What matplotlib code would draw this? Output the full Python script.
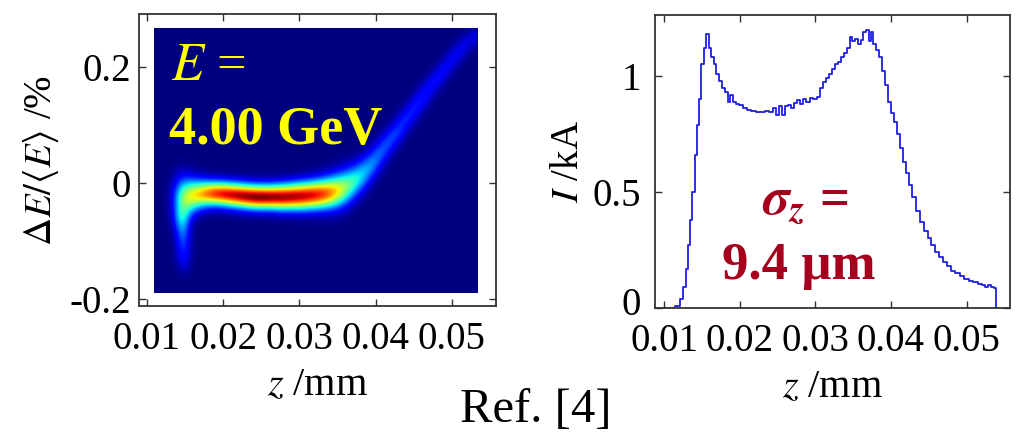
"""Longitudinal phase space and current profile at 4.00 GeV."""
import numpy as np
import matplotlib
matplotlib.use("Agg")
import matplotlib.pyplot as plt
from matplotlib.transforms import ScaledTranslation

plt.rcParams["font.family"] = ["Liberation Serif", "DejaVu Serif"]
plt.rcParams["mathtext.fontset"] = "stix"
plt.rcParams["axes.unicode_minus"] = False

# ---- current profile ----
cur_z = [0.0098, 0.0110, 0.0118, 0.0123, 0.0127, 0.0130, 0.0133, 0.0136, 0.0139, 0.0142,
         0.0145, 0.0148, 0.0151, 0.0154, 0.0158, 0.0161, 0.0164, 0.0167, 0.0171, 0.0175,
         0.0179, 0.0183, 0.0186, 0.0189, 0.0193, 0.0197, 0.0202, 0.0207, 0.0212, 0.0218,
         0.0224, 0.0230, 0.0236, 0.0241, 0.0246, 0.0250, 0.0254, 0.0258, 0.0262, 0.0266,
         0.0270, 0.0274, 0.0278, 0.0282, 0.0286, 0.0290, 0.0295, 0.0300, 0.0304, 0.0308,
         0.0312, 0.0316, 0.0320, 0.0324, 0.0328, 0.0332, 0.0336, 0.0340, 0.0344, 0.0347,
         0.0351, 0.0355, 0.0358, 0.0362, 0.0365, 0.0369, 0.0372, 0.0375, 0.0378, 0.0382,
         0.0386, 0.0390, 0.0394, 0.0398, 0.0402, 0.0406, 0.0410, 0.0414, 0.0418, 0.0422,
         0.0426, 0.0431, 0.0436, 0.0441, 0.0446, 0.0451, 0.0456, 0.0461, 0.0466, 0.0471,
         0.0476, 0.0482, 0.0488, 0.0494, 0.0500, 0.0506, 0.0512, 0.0518, 0.0522, 0.0526,
         0.0530, 0.0534, 0.0538, 0.0540]
cur_I = [0.00, 0.00, 0.01, 0.04, 0.09, 0.17, 0.27, 0.38, 0.50, 0.66,
         0.79, 0.90, 1.05, 1.12, 1.18, 1.12, 1.08, 1.05, 1.01, 0.98,
         0.95, 0.93, 0.89, 0.92, 0.89, 0.88, 0.875, 0.86, 0.855, 0.85,
         0.845, 0.845, 0.85, 0.845, 0.86, 0.83, 0.87, 0.83, 0.87, 0.875,
         0.86, 0.885, 0.895, 0.88, 0.90, 0.89, 0.905, 0.90, 0.91, 0.95,
         0.975, 0.99, 1.01, 1.03, 1.05, 1.06, 1.08, 1.10, 1.12, 1.17,
         1.15, 1.16, 1.14, 1.155, 1.19, 1.20, 1.15, 1.19, 1.14, 1.11,
         1.08, 1.02, 0.96, 0.89, 0.84, 0.80, 0.75, 0.69, 0.63, 0.58,
         0.53, 0.48, 0.42, 0.37, 0.33, 0.30, 0.27, 0.24, 0.22, 0.20,
         0.18, 0.16, 0.15, 0.14, 0.125, 0.115, 0.11, 0.105, 0.10, 0.09,
         0.10, 0.09, 0.085, 0.00]

# ---- phase-space ridge (centre, rms width and peak density along z) ----
ridge_z = [0.0142, 0.0148, 0.0155, 0.0162, 0.0170, 0.0178, 0.0186, 0.0194, 0.0202, 0.0210,
           0.0218, 0.0226, 0.0234, 0.0242, 0.0250, 0.0258, 0.0266, 0.0274, 0.0282, 0.0290,
           0.0298, 0.0306, 0.0314, 0.0322, 0.0330, 0.0338, 0.0346, 0.0354, 0.0362, 0.0370,
           0.0378, 0.0386, 0.0394, 0.0402, 0.0410, 0.0418, 0.0426, 0.0434, 0.0442, 0.0450,
           0.0458, 0.0466, 0.0474, 0.0482, 0.0490, 0.0498, 0.0506, 0.0514, 0.0522, 0.0530]
ridge_dE = [-0.030, -0.028, -0.025, -0.022, -0.020, -0.019, -0.019, -0.019, -0.020, -0.021,
            -0.022, -0.023, -0.024, -0.025, -0.025, -0.025, -0.025, -0.025, -0.025, -0.024,
            -0.024, -0.023, -0.022, -0.021, -0.020, -0.018, -0.016, -0.012, -0.007, 0.000,
            0.008, 0.018, 0.030, 0.043, 0.057, 0.071, 0.084, 0.098, 0.112, 0.126,
            0.140, 0.154, 0.168, 0.181, 0.194, 0.207, 0.220, 0.232, 0.244, 0.256]
ridge_sig = [0.026, 0.024, 0.021, 0.018, 0.016, 0.015, 0.014, 0.014, 0.014, 0.014,
             0.014, 0.014, 0.014, 0.014, 0.014, 0.014, 0.014, 0.015, 0.015, 0.015,
             0.016, 0.016, 0.016, 0.017, 0.017, 0.018, 0.019, 0.020, 0.020, 0.019,
             0.018, 0.017, 0.016, 0.015, 0.014, 0.013, 0.012, 0.012, 0.011, 0.011,
             0.011, 0.011, 0.010, 0.010, 0.010, 0.010, 0.010, 0.010, 0.010, 0.010]
ridge_amp = [0.40, 0.48, 0.55, 0.62, 0.70, 0.78, 0.84, 0.88, 0.91, 0.93,
             0.95, 0.97, 0.99, 1.00, 1.00, 0.99, 0.98, 0.97, 0.97, 0.96,
             0.95, 0.94, 0.92, 0.90, 0.86, 0.80, 0.72, 0.62, 0.52, 0.45,
             0.40, 0.36, 0.33, 0.30, 0.28, 0.27, 0.26, 0.25, 0.24, 0.23,
             0.22, 0.21, 0.20, 0.19, 0.18, 0.17, 0.16, 0.15, 0.13, 0.11]
# low-energy tail at the bunch head
tail_z = [0.0145, 0.0146, 0.0147, 0.0147, 0.0148]
tail_dE = [-0.060, -0.080, -0.100, -0.120, -0.140]
tail_amp = [0.30, 0.25, 0.20, 0.15, 0.10]

img_extent = [0.0109, 0.0534, -0.1897, 0.2655]

# rasterise the ridge as a sum of gaussian blobs
zz, ee = np.meshgrid(np.linspace(img_extent[0], img_extent[1], 400),
                     np.linspace(img_extent[2], img_extent[3], 400))
dens = np.zeros_like(zz)
for z0, e0, s0, a0 in zip(ridge_z, ridge_dE, ridge_sig, ridge_amp):
    dens += a0 * np.exp(-0.5 * ((zz - z0) / 0.0008) ** 2 - 0.5 * ((ee - e0) / s0) ** 2)
for z0, e0, a0 in zip(tail_z, tail_dE, tail_amp):
    dens += 1.3 * a0 * np.exp(-0.5 * ((zz - z0) / 0.0007) ** 2 - 0.5 * ((ee - e0) / 0.014) ** 2)
dens /= dens.max()

fig = plt.figure(figsize=(10.19, 4.33), dpi=100)
ax1 = fig.add_axes([0.1364, 0.2933, 0.3504, 0.6744])
ax2 = fig.add_axes([0.6428, 0.2887, 0.3484, 0.6767])

ax1.imshow(dens, origin="lower", extent=img_extent, aspect="auto", cmap="jet",
           vmin=0, vmax=1, interpolation="bilinear")
ax1.set_xlim(0.00895, 0.0558)
ax1.set_ylim(-0.212, 0.291)
ax1.set_yticks([-0.2, 0, 0.2])
ax1.set_yticklabels(["-0.2", "0", "0.2"])
ax1.set_ylabel(r"$\Delta E/\langle E\rangle$ /%", fontsize=28, labelpad=6)
ax1.tick_params(axis="y", pad=6)
ax1.text(0.09, 0.774, r"$E$ =", transform=ax1.transAxes, color="#ffff00", fontsize=38)
ax1.text(0.085, 0.555, "4.00 GeV", transform=ax1.transAxes, color="#ffff00",
         fontsize=39, fontweight="bold")

ax2.plot(cur_z, cur_I, color="#1f1fe0", lw=1.3, drawstyle="steps-mid")
ax2.set_xlim(0.00881, 0.05575)
ax2.set_ylim(0, 1.263)
ax2.set_yticks([0, 0.5, 1])
ax2.set_yticklabels(["0", "0.5", "1"])
ax2.set_ylabel(r"$I$ /kA", fontsize=28, labelpad=4)
ax2.tick_params(axis="y", pad=10)
ax2.text(0.30, 0.318, r"$\mathbfit{\sigma_z}$ =", transform=ax2.transAxes,
         color="#a5001e", fontsize=38, fontweight="bold")
ax2.text(0.19, 0.10, "9.4 \u00b5m", transform=ax2.transAxes, color="#a5001e",
         fontsize=38, fontweight="bold", family="Liberation Serif")

for ax in (ax1, ax2):
    ax.set_xticks([0.01, 0.02, 0.03, 0.04, 0.05])
    ax.set_xticklabels(["0.01", "0.02", "0.03", "0.04", "0.05"])
    ax.set_xlabel(r"$z$ /mm", fontsize=29, labelpad=6)
    ax.tick_params(direction="in", length=5, width=1, top=True, right=True,
                   labelsize=28, color="#333333")
    ax.tick_params(axis="x", pad=11)
    for sp in ax.spines.values():
        sp.set_color("#333333")
        sp.set_linewidth(1.3)

# the "0" of the current axis sits a little above its tick, as in the original
zero_lab = ax2.get_yticklabels()[0]
zero_lab.set_transform(zero_lab.get_transform()
                       + ScaledTranslation(0, 7 / 100, fig.dpi_scale_trans))

fig.text(460 / 1019, 1 - 422 / 433, "Ref. [4]", fontsize=35, va="baseline")

fig.savefig("out.png", dpi=100)
